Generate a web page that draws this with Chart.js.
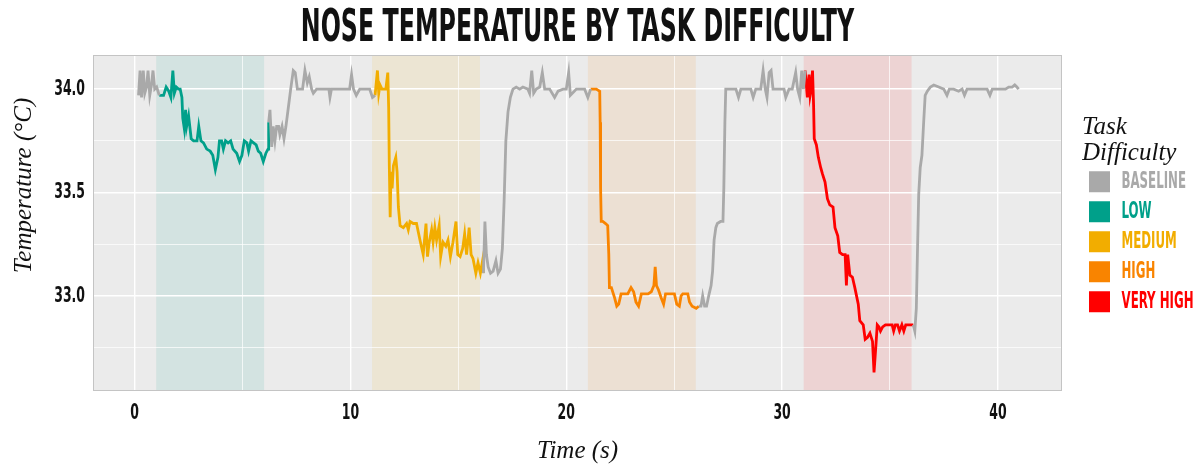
<!DOCTYPE html>
<html>
<head>
<meta charset="utf-8">
<script src="https://cdn.jsdelivr.net/npm/chart.js@4/dist/chart.umd.min.js"></script>
<style>
  html, body { margin: 0; padding: 0; background: #ffffff; }
  #chart { display: block; }
</style>
</head>
<body>
<canvas id="chart" width="1195" height="469"></canvas>
<script>
// nose temperature trace (time in s, temperature in degC)
const baselineTime = [0.18, 0.25, 0.32, 0.40, 0.47, 0.55, 0.62, 0.70, 0.78, 0.85, 0.93, 1.02, 1.14, null,
    6.21, 6.27, 6.35, 6.42, 6.50, 6.58, 6.67, 6.73, 6.83, 6.92, 7.01, 7.12, 7.23, 7.35, 7.44, 7.54, 7.66, 7.78, 7.89, 8.00,
    8.09, 8.20, 8.28, 8.43, 8.74, 9.00, 9.05, 9.12, 9.50, 9.96, 10.05, 10.14, 10.27, 10.43, 10.89, 11.02, 11.14, null,
    16.16, 16.23, 16.30, 16.38, 16.49, 16.61, 16.74, 16.84, 16.95, 17.04, 17.12, 17.20, 17.30, 17.41, 17.53, 17.68, 17.84,
    17.99, 18.22, 18.30, 18.40, 18.49, 18.61, 18.77, 18.89, 19.00, 19.23, 19.46, 19.62, 19.85, 20.00, 20.11, 20.19, 20.47,
    20.85, 21.00, 21.13, null,
    26.14, 26.24, 26.32, 26.41, 26.50, 26.62, 26.71, 26.78, 26.85, 26.93, 27.00, 27.15, 27.26, 27.30, 27.35, 27.39, 27.55,
    27.86, 27.98, 28.09, 28.55, 28.66, 28.78, 29.01, 29.12, 29.22, 29.30, 29.40, 29.49, 29.58, 29.86, 30.09, 30.17, 30.32,
    30.47, 30.63, 30.72, 30.82, 30.91, 30.99, 31.07, null,
    36.08, 36.15, 36.22, 36.27, 36.33, 36.40, 36.48, 36.56, 36.63, 36.73, 36.87, 37.03, 37.26, 37.49, 37.64, 37.75, 37.95,
    38.18, 38.34, 38.45, 38.57, 38.88, 39.11, 39.50, 39.63, 39.74, 40.04, 40.35, 40.50, 40.66, 40.78, 40.88, 40.96];
const baselineTemp = [33.97, 34.09, 33.96, 34.09, 33.98, 34.01, 34.09, 33.97, 34.02, 34.09, 34.00, 34.01, 33.97, null,
    33.84, 33.90, 33.72, 33.82, 33.75, 33.82, 33.82, 33.78, 33.82, 33.76, 33.82, 33.91, 34.00, 34.09, 34.08, 34.00, 34.00, 34.00, 34.09, 34.03,
    34.06, 34.00, 33.98, 34.00, 34.00, 34.00, 33.96, 34.00, 34.00, 34.00, 34.07, 34.00, 33.97, 34.00, 34.00, 33.96, 33.97, null,
    33.11, 33.36, 33.20, 33.14, 33.11, 33.12, 33.17, 33.11, 33.13, 33.23, 33.46, 33.75, 33.89, 33.96, 34.00, 34.01, 34.00,
    34.01, 34.00, 33.98, 34.09, 33.98, 34.00, 34.01, 34.08, 34.00, 34.00, 33.96, 33.99, 34.00, 34.00, 34.08, 33.97, 34.00,
    34.00, 33.96, 34.00, null,
    32.95, 32.95, 33.00, 32.95, 32.95, 33.01, 33.05, 33.12, 33.27, 33.33, 33.35, 33.36, 33.36, 33.52, 33.84, 34.00, 34.00,
    34.00, 33.96, 34.00, 34.00, 33.96, 34.00, 34.00, 34.09, 34.00, 33.96, 34.08, 34.09, 34.00, 34.00, 34.00, 33.96, 34.00,
    34.00, 34.08, 34.00, 33.96, 34.09, 34.00, 34.09, null,
    32.86, 32.83, 32.94, 33.20, 33.49, 33.62, 33.68, 33.84, 33.97, 33.99, 34.01, 34.02, 34.01, 34.00, 33.97, 34.00, 34.00,
    33.99, 34.00, 33.97, 34.00, 34.00, 34.00, 34.00, 33.97, 34.00, 34.00, 34.00, 34.01, 34.01, 34.02, 34.01, 34.00];

const lowTime = [1.14, 1.34, 1.46, 1.58, 1.68, 1.77, 1.84, 1.93, 2.03, 2.11, 2.19, 2.23, 2.30, 2.36, 2.41, 2.50, 2.62,
    2.73, 2.89, 2.97, 3.07, 3.19, 3.34, 3.50, 3.62, 3.74, 3.86, 3.93, 4.03, 4.11, 4.21, 4.33, 4.45, 4.56, 4.73, 4.86,
    4.97, 5.08, 5.20, 5.28, 5.39, 5.51, 5.63, 5.73, 5.84, 5.96, 6.08, 6.18, 6.21];
const lowTemp = [33.97, 33.97, 34.01, 33.99, 33.96, 34.09, 33.98, 34.01, 34.00, 34.00, 33.96, 33.86, 33.81, 33.90, 33.82,
    33.87, 33.76, 33.75, 33.75, 33.82, 33.75, 33.74, 33.71, 33.70, 33.68, 33.61, 33.67, 33.75, 33.75, 33.71, 33.75, 33.74,
    33.75, 33.71, 33.69, 33.65, 33.68, 33.75, 33.74, 33.70, 33.75, 33.74, 33.73, 33.70, 33.69, 33.65, 33.69, 33.71, 33.84];

const mediumTime = [11.14, 11.25, 11.31, 11.37, 11.46, 11.57, 11.64, 11.73, 11.77, 11.80, 11.84, 11.88, 11.93, 11.99,
    12.10, 12.16, 12.22, 12.30, 12.45, 12.60, 12.68, 12.76, 12.91, 13.06, 13.22, 13.37, 13.50, 13.57, 13.65, 13.76, 13.83,
    13.91, 13.99, 14.11, 14.18, 14.29, 14.42, 14.52, 14.63, 14.75, 14.89, 14.97, 15.08, 15.20, 15.29, 15.38, 15.50, 15.59,
    15.68, 15.81, 15.91, 16.02, 16.12, 16.16];
const mediumTemp = [33.97, 34.09, 33.98, 34.02, 34.00, 34.00, 34.00, 34.08, 33.91, 33.63, 33.38, 33.60, 33.52, 33.63,
    33.67, 33.60, 33.43, 33.34, 33.33, 33.35, 33.32, 33.36, 33.35, 33.35, 33.27, 33.20, 33.35, 33.19, 33.26, 33.32, 33.26,
    33.33, 33.27, 33.34, 33.19, 33.26, 33.24, 33.27, 33.19, 33.26, 33.36, 33.20, 33.19, 33.23, 33.30, 33.20, 33.33, 33.20,
    33.18, 33.11, 33.16, 33.11, 33.17, 33.11];

const highTime = [21.13, 21.39, 21.55, 21.57, 21.59, 21.62, 21.69, 21.82, 21.92, 21.97, 22.00, 22.09, 22.24, 22.34,
    22.43, 22.54, 22.70, 22.85, 23.00, 23.12, 23.23, 23.35, 23.48, 23.63, 23.79, 23.94, 24.06, 24.12, 24.18, 24.27, 24.40,
    24.51, 24.60, 24.78, 25.01, 25.12, 25.24, 25.32, 25.40, 25.63, 25.71, 25.83, 26.02, 26.14];
const highTemp = [34.00, 34.00, 33.99, 33.84, 33.52, 33.36, 33.36, 33.35, 33.34, 33.20, 33.04, 33.04, 32.99, 32.95,
    32.96, 33.01, 33.01, 33.01, 33.04, 33.02, 32.97, 32.95, 33.01, 33.01, 33.01, 33.02, 33.05, 33.14, 33.05, 33.03, 32.99,
    32.96, 33.01, 33.01, 33.01, 32.96, 32.95, 33.00, 33.01, 33.01, 32.97, 32.95, 32.94, 32.95];

const veryHighTime = [31.07, 31.17, 31.25, 31.30, 31.35, 31.41, 31.46, 31.49, 31.59, 31.68, 31.79, 31.87, 31.99, 32.10,
    32.21, 32.36, 32.45, 32.58, 32.67, 32.80, 32.92, 32.98, 33.04, 33.14, 33.26, 33.37, 33.53, 33.60, 33.76, 33.85, 33.96,
    34.07, 34.19, 34.26, 34.34, 34.41, 34.49, 34.56, 34.66, 34.79, 34.94, 35.10, 35.17, 35.25, 35.35, 35.44, 35.55, 35.64,
    35.73, 35.86, 35.97, 36.08];
const veryHighTemp = [34.09, 33.96, 34.07, 33.97, 34.00, 34.09, 33.92, 33.76, 33.73, 33.67, 33.62, 33.59, 33.55, 33.47,
    33.44, 33.43, 33.33, 33.29, 33.21, 33.20, 33.20, 33.05, 33.20, 33.10, 33.09, 33.04, 32.96, 32.88, 32.86, 32.79, 32.80,
    32.82, 32.78, 32.63, 32.75, 32.86, 32.85, 32.83, 32.85, 32.86, 32.86, 32.86, 32.83, 32.86, 32.86, 32.83, 32.86, 32.83,
    32.86, 32.86, 32.86, 32.86];

// task windows (shaded bands)
const bandStart = [1, 11, 21, 31];
const bandEnd = [6, 16, 26, 36];

const seriesNames = ['BASELINE', 'LOW', 'MEDIUM', 'HIGH', 'VERY HIGH'];
const seriesColors = ['#A9A9A9', '#00A08A', '#F2AD00', '#F98400', '#FF0000'];
const bandColors = ['rgba(0, 160, 138, 0.1)', 'rgba(242, 173, 0, 0.1)', 'rgba(249, 132, 0, 0.1)', 'rgba(255, 0, 0, 0.1)'];

const xTicks = [0, 5, 10, 15, 20, 25, 30, 35, 40];
const yTicks = [32.75, 33.0, 33.25, 33.5, 33.75, 34.0];

// condensed display look: the condensed face is squeezed further when drawn.
// the marker family name in the font list picks the squeeze factor.
const squeezeFactors = { squeezetitle: 0.6, squeezelegend: 0.57, squeezetick: 0.63 };
const titleFont = "'Liberation Sans Narrow', 'DejaVu Sans Condensed', SqueezeTitle, sans-serif";
const legendFont = "'Liberation Sans Narrow', 'DejaVu Sans Condensed', SqueezeLegend, sans-serif";
const tickFont = "'Liberation Sans Narrow', 'DejaVu Sans Condensed', SqueezeTick, sans-serif";
const serifFont = "'Liberation Serif', 'DejaVu Serif', serif";

function toPoints(times, temps) {
    return times.map((t, i) => ({ x: t, y: temps[i] }));
}

function isMajor(v, step) {
    return Math.abs(v / step - Math.round(v / step)) < 1e-6;
}

const canvas = document.getElementById('chart');
const ctx = canvas.getContext('2d');

const plainFillText = ctx.fillText;
ctx.fillText = function (text, x, y, maxWidth) {
    const font = this.font.toLowerCase();
    const key = Object.keys(squeezeFactors).find(k => font.indexOf(k) !== -1);
    if (!key) {
        return maxWidth === undefined ? plainFillText.call(this, text, x, y) : plainFillText.call(this, text, x, y, maxWidth);
    }
    const k = squeezeFactors[key];
    this.save();
    this.translate(x, y);
    this.scale(k, 1);
    if (maxWidth === undefined) plainFillText.call(this, text, 0, 0);
    else plainFillText.call(this, text, 0, 0, maxWidth / k);
    this.restore();
};

// panel background, task bands and border
const panel = {
    id: 'panel',
    beforeDraw(chart) {
        const { ctx, chartArea: a, scales: { x } } = chart;
        ctx.save();
        ctx.fillStyle = '#EBEBEB';
        ctx.fillRect(a.left, a.top, a.right - a.left, a.bottom - a.top);
        bandStart.forEach((s, i) => {
            const x0 = x.getPixelForValue(s);
            const x1 = x.getPixelForValue(bandEnd[i]);
            ctx.fillStyle = bandColors[i];
            ctx.fillRect(x0, a.top, x1 - x0, a.bottom - a.top);
        });
        ctx.restore();
    },
    afterDatasetsDraw(chart) {
        const { ctx, chartArea: a } = chart;
        ctx.save();
        ctx.strokeStyle = '#C4C4C4';
        ctx.lineWidth = 1;
        ctx.strokeRect(a.left + 0.5, a.top + 0.5, a.right - a.left - 1, a.bottom - a.top - 1);
        ctx.restore();
    }
};

// fixed legend column to the right of the panel
const legendPlacement = {
    id: 'legendPlacement',
    beforeUpdate(chart) {
        const legend = chart.legend;
        if (legend && !legend.fitPatched) {
            const fit = legend.fit;
            legend.fit = function () {
                fit.call(this);
                this.width = 133;
            };
            legend.fitPatched = true;
        }
    },
    afterLayout(chart) {
        chart.legend.left = chart.chartArea.right + 20;
        chart.legend.top = chart.chartArea.top + 38;
    }
};

const lineStyle = (label, color, data) => ({
    label: label,
    data: data,
    borderColor: color,
    backgroundColor: color,
    borderWidth: 2.8,
    pointRadius: 0,
    tension: 0,
    spanGaps: false
});

new Chart(ctx, {
    type: 'line',
    data: {
        datasets: [
            lineStyle(seriesNames[0], seriesColors[0], toPoints(baselineTime, baselineTemp)),
            lineStyle(seriesNames[1], seriesColors[1], toPoints(lowTime, lowTemp)),
            lineStyle(seriesNames[2], seriesColors[2], toPoints(mediumTime, mediumTemp)),
            lineStyle(seriesNames[3], seriesColors[3], toPoints(highTime, highTemp)),
            lineStyle(seriesNames[4], seriesColors[4], toPoints(veryHighTime, veryHighTemp))
        ]
    },
    options: {
        responsive: false,
        animation: false,
        layout: { padding: 0 },
        plugins: {
            title: {
                display: true,
                text: 'NOSE TEMPERATURE BY TASK DIFFICULTY',
                fullSize: false,
                color: '#111111',
                font: { family: titleFont, weight: 'bold', size: 44, lineHeight: 1 },
                padding: { top: 8, bottom: 3 }
            },
            legend: {
                position: 'right',
                align: 'start',
                title: {
                    display: true,
                    text: ['Task', 'Difficulty'],
                    position: 'start',
                    color: '#111111',
                    font: { family: serifFont, style: 'italic', size: 25, lineHeight: 1.05 },
                    padding: 22
                },
                labels: {
                    boxWidth: 21,
                    boxHeight: 21,
                    padding: 7,
                    font: { family: legendFont, weight: 'bold', size: 23 },
                    generateLabels(chart) {
                        return chart.data.datasets.map((ds, i) => ({
                            text: ds.label,
                            fillStyle: ds.borderColor,
                            strokeStyle: ds.borderColor,
                            fontColor: ds.borderColor,
                            lineWidth: 0,
                            hidden: false,
                            datasetIndex: i
                        }));
                    }
                }
            },
            tooltip: { enabled: false }
        },
        scales: {
            x: {
                type: 'linear',
                min: -1.93,
                max: 42.97,
                afterBuildTicks: scale => { scale.ticks = xTicks.map(v => ({ value: v })); },
                afterFit: scale => { scale.height = 78; },
                border: { display: false },
                grid: {
                    color: '#FFFFFF',
                    lineWidth: c => isMajor(c.tick.value, 10) ? 1.4 : 0.7,
                    drawTicks: false
                },
                ticks: {
                    padding: 9,
                    color: '#111111',
                    maxRotation: 0,
                    font: { family: tickFont, weight: 'bold', size: 22 },
                    callback: v => isMajor(v, 10) ? String(v) : ''
                },
                title: {
                    display: true,
                    text: 'Time (s)',
                    color: '#111111',
                    font: { family: serifFont, style: 'italic', size: 25 },
                    padding: { top: 0, bottom: 3 }
                }
            },
            y: {
                min: 32.54,
                max: 34.165,
                afterBuildTicks: scale => { scale.ticks = yTicks.map(v => ({ value: v })); },
                afterFit: scale => { scale.width = 93; },
                border: { display: false },
                grid: {
                    color: '#FFFFFF',
                    lineWidth: c => isMajor(c.tick.value, 0.5) ? 1.4 : 0.7,
                    drawTicks: false
                },
                ticks: {
                    padding: 8,
                    color: '#111111',
                    font: { family: tickFont, weight: 'bold', size: 22 },
                    callback: v => isMajor(v, 0.5) ? v.toFixed(1) : ''
                },
                title: {
                    display: true,
                    text: '\u00a0'.repeat(12) + 'Temperature (\u00b0C)',
                    color: '#111111',
                    font: { family: serifFont, style: 'italic', size: 25 },
                    padding: { top: 9, bottom: 0 }
                }
            }
        }
    },
    plugins: [panel, legendPlacement]
});
</script>
</body>
</html>
